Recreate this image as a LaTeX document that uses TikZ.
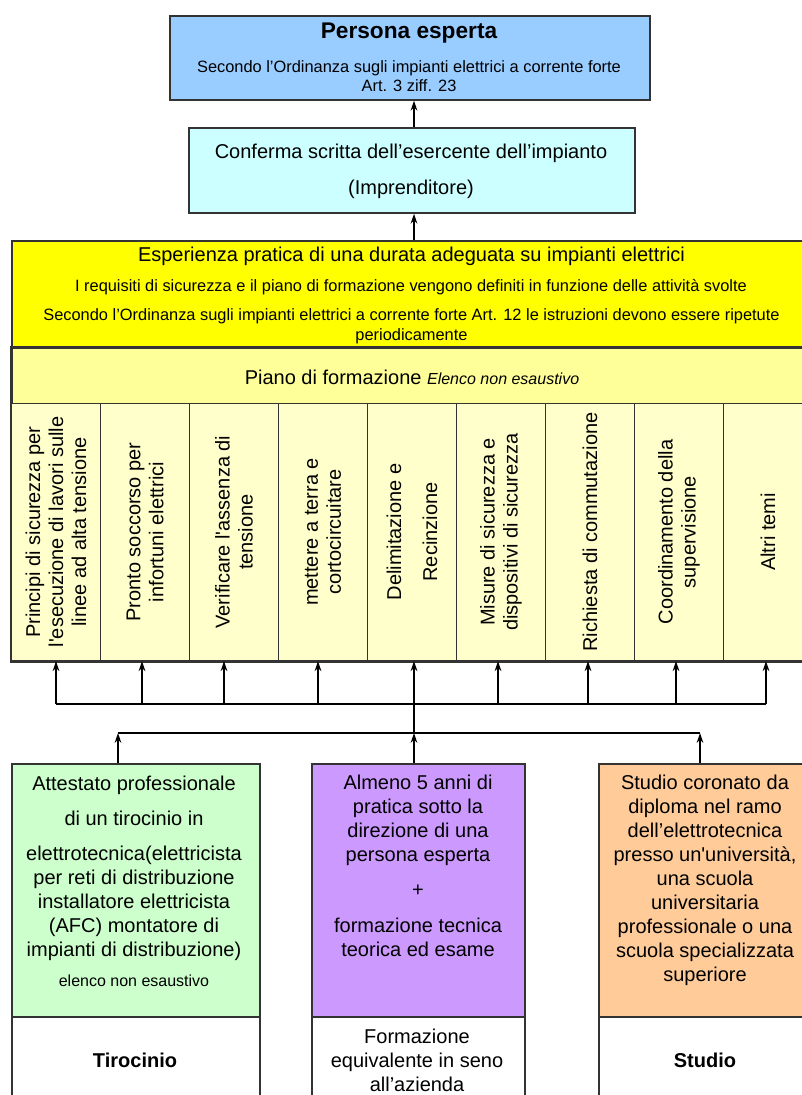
\documentclass[tikz,border=0pt]{standalone}
\usepackage{fontspec}
\setmainfont{Liberation Sans}
\usetikzlibrary{arrows.meta}
\definecolor{cTop}{HTML}{99CCFF}
\definecolor{cConf}{HTML}{CCFFFF}
\definecolor{cExp}{HTML}{FFFF00}
\definecolor{cPlan}{HTML}{FFFF99}
\definecolor{cCol}{HTML}{FFFFCC}
\definecolor{cGreen}{HTML}{CCFFCC}
\definecolor{cPurple}{HTML}{CC99FF}
\definecolor{cOrange}{HTML}{FFCC99}
\definecolor{cLine}{HTML}{333333}
\begin{document}
\begin{tikzpicture}[x=0.75pt,y=-0.75pt,
  box/.style={draw=cLine, line width=1.3pt, rectangle, inner sep=0pt, anchor=north west},
  colbox/.style={draw=cLine, line width=0.8pt, fill=cCol, rectangle, inner sep=0pt, anchor=north west, minimum width=66.75pt, minimum height=192.75pt},
  txt/.style={align=center, inner sep=0pt, font=\fontsize{15}{18}\selectfont},
  small/.style={align=center, inner sep=0pt, font=\fontsize{12.3}{15}\selectfont},
  coltxt/.style={align=center, inner sep=0pt, rotate=90, font=\fontsize{15}{17.25}\selectfont},
  arr/.style={line width=1.1pt, draw=black, -{Stealth[length=7.5pt,width=5pt,inset=2.5pt]}},
  bus/.style={line width=1.2pt, draw=black}]
\useasboundingbox (0,0) rectangle (802,1095);
\clip (0,0) rectangle (802,1095);

% boxes
\node[box, fill=cTop, minimum width=360pt, minimum height=63pt] (top) at (169,15) {};
\node[box, fill=cConf, minimum width=334.5pt, minimum height=63.75pt] (conf) at (188,127) {};
\node[box, fill=cExp, minimum width=600.75pt, minimum height=80.25pt] (exp) at (11,240) {};
\node[box, fill=cPlan, minimum width=600.75pt, minimum height=234.75pt] (plan) at (11,347) {};
\foreach \i in {1,...,9}{
  \node[colbox] (c\i) at ({11+89*(\i-1)},403) {};
}
\draw[draw=cLine, line width=1.3pt] (plan.south west) rectangle (plan.north east);

\node[box, fill=cGreen, minimum width=186pt, minimum height=189.75pt] (green) at (11,763) {};
\node[box, fill=cPurple, minimum width=159.75pt, minimum height=189.75pt] (purple) at (311,763) {};
\node[box, fill=cOrange, minimum width=160.5pt, minimum height=189.75pt] (orange) at (598,763) {};
\node[box, fill=white, minimum width=186pt, minimum height=70.5pt] (wgreen) at (11,1016) {};
\node[box, fill=white, minimum width=159.75pt, minimum height=70.5pt] (wpurple) at (311,1016) {};
\node[box, fill=white, minimum width=160.5pt, minimum height=70.5pt] (worange) at (598,1016) {};

% texts
\node[inner sep=0pt, font=\fontsize{17}{20}\selectfont\bfseries] (tPE) at (409,33) {Persona esperta};
\node[small, font=\fontsize{12.3}{14.25}\selectfont] (tPEs) at (409,76.5) {Secondo l'Ordinanza sugli impianti elettrici a corrente forte\\ Art. 3 ziff. 23};
\node[txt] (tConf) at (411,171) {Conferma scritta dell'esercente dell'impianto\\[9pt] (Imprenditore)};
\node[txt] (tExp1) at (411.5,256) {Esperienza pratica di una durata adeguata su impianti elettrici};
\node[small] (tExp2) at (411,287) {I requisiti di sicurezza e il piano di formazione vengono definiti in funzione delle attività svolte};
\node[small] (tExp3) at (411.5,326) {Secondo l'Ordinanza sugli impianti elettrici a corrente forte Art. 12 le istruzioni devono essere ripetute\\ periodicamente};
\node[txt] (tPlan) at (412,377) {Piano di formazione {\fontsize{12}{14}\selectfont\itshape Elenco non esaustivo}};

\node[coltxt] (k1) at (c1) {Principi di sicurezza per\\ l\textquotesingle esecuzione di lavori sulle\\ linee ad alta tensione};
\node[coltxt] (k2) at (c2) {Pronto soccorso per\\ infortuni elettrici};
\node[coltxt] (k3) at (c3) {Verificare l\textquotesingle assenza di\\ tensione};
\node[coltxt] (k4) at (c4) {mettere a terra e\\ cortocircuitare};
\node[coltxt] (k5) at (c5) {Delimitazione e\\[9.75pt] Recinzione};
\node[coltxt] (k6) at (c6) {Misure di sicurezza e\\ dispositivi di sicurezza};
\node[coltxt] (k7) at (c7) {Richiesta di commutazione};
\node[coltxt] (k8) at (c8) {Coordinamento della\\ supervisione};
\node[coltxt] (k9) at (c9) {Altri temi};

\node[txt] (tGreen) at (134,868) {Attestato professionale\\[8.25pt] di un tirocinio in\\[8.25pt] elettrotecnica(elettricista\\ per reti di distribuzione\\ installatore elettricista\\ (AFC) montatore di\\ impianti di distribuzione)};
\node[inner sep=0pt, font=\fontsize{12}{14}\selectfont] (tGreen2) at (134,981) {elenco non esaustivo};
\node[txt] (tPurple) at (418,866) {Almeno 5 anni di\\ pratica sotto la\\ direzione di una\\ persona esperta\\[8pt] +\\[9pt] formazione tecnica\\ teorica ed esame};
\node[txt] (tOrange) at (705,880) {Studio coronato da\\ diploma nel ramo\\ dell'elettrotecnica\\ presso un\textquotesingle università,\\ una scuola\\ universitaria\\ professionale o una\\ scuola specializzata\\ superiore};
\node[txt, font=\fontsize{15}{18}\selectfont\bfseries] (tTir) at (135,1060) {Tirocinio};
\node[txt] (tForm) at (417,1060) {Formazione\\ equivalente in seno\\ all'azienda};
\node[txt, font=\fontsize{15}{18}\selectfont\bfseries] (tStu) at (705,1060) {Studio};

% connectors
\coordinate (b1) at (56,704);
\coordinate (b2) at (142,704);
\coordinate (b3) at (224,704);
\coordinate (b4) at (318,704);
\coordinate (b6) at (498,704);
\coordinate (b7) at (588,704);
\coordinate (b8) at (676,704);
\coordinate (b9) at (766,704);
\coordinate (l1) at (118,733);
\coordinate (l2) at (414,733);
\coordinate (l3) at (700,733);

\draw[bus] (b1) -- (b9);
\foreach \i in {1,2,3,4,6,7,8,9}{
  \draw[arr] (b\i) -- (b\i |- c\i.south);
}
\draw[bus] (l1) -- (l3);
\draw[arr] (l2) -- (c5.south -| l2);
\draw[arr] (green.north -| l1) -- (l1);
\draw[arr] (purple.north -| l2) -- (l2);
\draw[arr] (orange.north -| l3) -- (l3);
\draw[arr] (exp.north -| l2) -- (conf.south -| l2);
\draw[arr] (conf.north -| l2) -- (top.south -| l2);
\end{tikzpicture}
\end{document}
